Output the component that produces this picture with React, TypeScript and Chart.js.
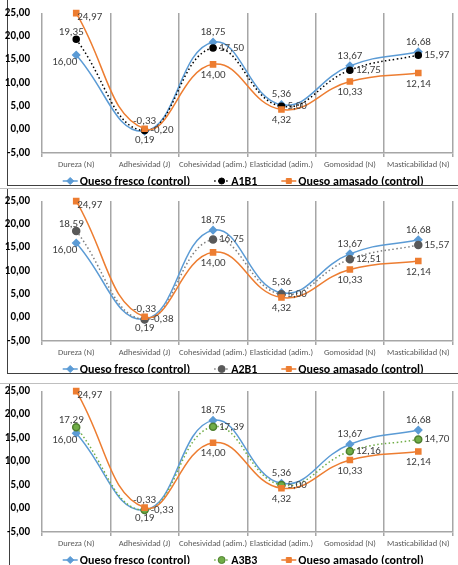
import React, { useEffect, useRef } from 'react';
import { Chart, registerables } from 'chart.js';

Chart.register(...registerables);

// ---------- data ----------
const categories = [
  'Dureza (N)',
  'Adhesividad (J)',
  'Cohesividad (adim.)',
  'Elasticidad (adim.)',
  'Gomosidad (N)',
  'Masticabilidad (N)',
];
const quesoFresco = [16.0, -0.33, 18.75, 5.36, 13.67, 16.68];
const quesoAmasado = [24.97, 0.19, 14.0, 4.32, 10.33, 12.14];
const a1b1 = [19.35, -0.2, 17.5, 5.0, 12.75, 15.97];
const a2b1 = [18.59, -0.38, 16.75, 5.0, 12.51, 15.57];
const a3b3 = [17.29, -0.33, 17.39, 5.0, 12.16, 14.7];
const yMin = -5;
const yMax = 25;
const yStep = 5;

// label placement per point (style, not data)
const frescoPlace = ['lowleft', 'above', 'above', 'above', 'above', 'above'];
const amasadoPlace = ['rightlow', 'below', 'below', 'below', 'below', 'below'];
const treatPlace = ['upleft', 'right', 'right', 'right', 'right', 'right'];

const FONT = 'Carlito, "Liberation Sans Narrow", "Liberation Sans", Arial, sans-serif';

const fmt = (v: number) => v.toFixed(2).replace('.', ',');

const BLUE = '#5B9BD5';
const ORANGE = '#ED7D31';

type Treat = {
  name: string;
  data: number[];
  line: string;
  fill: string;
  border: string;
  radius: number;
};

const treatments: Treat[] = [
  { name: 'A1B1', data: a1b1, line: '#000000', fill: '#000000', border: '#000000', radius: 3 },
  { name: 'A2B1', data: a2b1, line: '#7F7F7F', fill: '#595959', border: '#595959', radius: 3.5 },
  { name: 'A3B3', data: a3b3, line: '#70AD47', fill: '#70AD47', border: '#4E7F2F', radius: 3.5 },
];

const placeOffset: Record<string, { align: CanvasTextAlign; dx: number; dy: number }> = {
  above: { align: 'center', dx: 0, dy: -10 },
  below: { align: 'center', dx: 0, dy: 11 },
  right: { align: 'left', dx: 6, dy: 0 },
  lowleft: { align: 'right', dx: 1, dy: 7 },
  rightlow: { align: 'left', dx: 1, dy: 4 },
  upleft: { align: 'center', dx: -5, dy: -7 },
};

const labelPlugin = {
  id: 'dataLabels',
  afterDatasetsDraw(chart: any) {
    const ctx = chart.ctx;
    ctx.save();
    ctx.font = `11px ${FONT}`;
    ctx.fillStyle = '#404040';
    ctx.textBaseline = 'middle';
    chart.data.datasets.forEach((ds: any, i: number) => {
      const meta = chart.getDatasetMeta(i);
      meta.data.forEach((pt: any, j: number) => {
        const p = placeOffset[ds.places[j]];
        ctx.textAlign = p.align;
        ctx.fillText(fmt(ds.data[j]), pt.x + p.dx, pt.y + p.dy);
      });
    });
    ctx.restore();
  },
};

function drawMarker(ctx: CanvasRenderingContext2D, style: string, x: number, y: number, fill: string, border: string, r: number) {
  ctx.save();
  ctx.fillStyle = fill;
  ctx.strokeStyle = border;
  ctx.lineWidth = 1;
  ctx.beginPath();
  if (style === 'rectRot') {
    ctx.moveTo(x, y - 3.5);
    ctx.lineTo(x + 3.5, y);
    ctx.lineTo(x, y + 3.5);
    ctx.lineTo(x - 3.5, y);
    ctx.closePath();
  } else if (style === 'rect') {
    ctx.rect(x - 2.5, y - 2.5, 5, 5);
  } else {
    ctx.arc(x, y, r, 0, Math.PI * 2);
  }
  ctx.fill();
  ctx.stroke();
  ctx.restore();
}

const legendPlugin = {
  id: 'customLegend',
  afterDraw(chart: any) {
    const ctx = chart.ctx;
    const area = chart.chartArea;
    const y = area.bottom + 28;
    ctx.save();
    ctx.font = `bold 12px ${FONT}`;
    ctx.textBaseline = 'middle';
    const items = chart.data.datasets
      .slice()
      .sort((a: any, b: any) => a.legendIndex - b.legendIndex);
    const sample = 15;
    const gap = 2;
    const spacing = 24;
    const widths = items.map((d: any) => sample + gap + ctx.measureText(d.label).width);
    const total = widths.reduce((a: number, b: number) => a + b, 0) + spacing * (items.length - 1);
    let x = (area.left + area.right) / 2 - 4 - total / 2;
    items.forEach((d: any, k: number) => {
      ctx.save();
      ctx.strokeStyle = d.borderColor;
      ctx.lineWidth = 1.5;
      ctx.setLineDash(d.borderDash || []);
      ctx.beginPath();
      ctx.moveTo(x, y);
      ctx.lineTo(x + sample, y);
      ctx.stroke();
      ctx.restore();
      drawMarker(ctx, d.pointStyle, x + sample / 2, y, d.pointBackgroundColor, d.pointBorderColor, d.pointRadius);
      ctx.fillStyle = '#000000';
      ctx.textAlign = 'left';
      ctx.fillText(d.label, x + sample + gap, y + 0.5);
      x += widths[k] + spacing;
    });
    ctx.restore();
  },
};

function LineChart({ treat, height }: { treat: Treat; height: number }) {
  const ref = useRef<HTMLCanvasElement>(null);
  useEffect(() => {
    if (!ref.current) return;
    const chart = new Chart(ref.current, {
      type: 'line',
      data: {
        labels: categories,
        datasets: [
          {
            label: 'Queso fresco (control)',
            data: quesoFresco,
            borderColor: BLUE,
            backgroundColor: BLUE,
            pointBackgroundColor: BLUE,
            pointBorderColor: BLUE,
            pointStyle: 'rectRot',
            pointRadius: 3.5,
            borderWidth: 1.5,
            tension: 0.45,
            order: 3,
            places: frescoPlace,
            legendIndex: 0,
          } as any,
          {
            label: treat.name,
            data: treat.data,
            borderColor: treat.line,
            backgroundColor: treat.fill,
            pointBackgroundColor: treat.fill,
            pointBorderColor: treat.border,
            pointStyle: 'circle',
            pointRadius: treat.radius,
            borderWidth: 1.5,
            borderDash: [1.5, 2.5],
            tension: 0.45,
            order: 2,
            places: treatPlace,
            legendIndex: 1,
          } as any,
          {
            label: 'Queso amasado (control)',
            data: quesoAmasado,
            borderColor: ORANGE,
            backgroundColor: ORANGE,
            pointBackgroundColor: ORANGE,
            pointBorderColor: ORANGE,
            pointStyle: 'rect',
            pointRadius: 3.6,
            borderWidth: 1.5,
            tension: 0.45,
            order: 1,
            places: amasadoPlace,
            legendIndex: 2,
          } as any,
        ],
      },
      options: {
        animation: false,
        responsive: false,
        maintainAspectRatio: false,
        clip: false as any,
        layout: { padding: { top: 13, left: 0, right: 0, bottom: 0 } },
        plugins: {
          legend: { display: false },
          tooltip: { enabled: false },
        },
        scales: {
          x: {
            offset: true,
            grid: {
              display: true,
              offset: true,
              color: '#A6A6A6',
              lineWidth: 1.5,
              drawTicks: true,
              tickLength: 4,
            },
            border: { display: true, color: '#A6A6A6', width: 1.5 },
            ticks: {
              color: '#595959',
              font: { family: FONT, size: 8.5 },
              padding: 3,
              maxRotation: 0,
              autoSkip: false,
            },
            afterFit: (s: any) => {
              s.height = 32;
              s.paddingLeft = 0;
              s.paddingRight = 0;
            },
          },
          y: {
            min: yMin,
            max: yMax,
            grid: { display: false, drawTicks: false },
            border: { display: false },
            ticks: {
              stepSize: yStep,
              color: '#000000',
              font: { family: FONT, size: 11, weight: 'bold' },
              padding: 12,
              callback: (v: any) => fmt(Number(v)),
            },
            afterFit: (s: any) => {
              s.width = 42;
              s.paddingTop = 0;
              s.paddingBottom = 0;
            },
          },
        },
      },
      plugins: [labelPlugin, legendPlugin],
    });
    return () => chart.destroy();
  }, [treat, height]);
  return <canvas ref={ref} width={458} height={height} style={{ display: 'block', width: 458, height }} />;
}

export default function App() {
  useEffect(() => {
    document.body.style.margin = '0';
  }, []);
  const dark = '#404040';
  const gray = '#BFBFBF';
  return (
    <div style={{ position: 'relative', width: 458, height: 565, overflow: 'hidden', background: '#ffffff' }}>
      {/* chart 1 frame */}
      <div style={{ position: 'absolute', left: 7, top: -3, width: 460, height: 187, borderLeft: `1.5px solid ${dark}`, borderBottom: `1.5px solid ${dark}`, borderTop: `1px solid ${dark}` }} />
      {/* chart 2 frame */}
      <div style={{ position: 'absolute', left: 0, top: 188, width: 458, height: 0, borderTop: `1px solid ${gray}` }} />
      <div style={{ position: 'absolute', left: 7, top: 189, width: 460, height: 184, borderLeft: `1.5px solid ${dark}`, borderBottom: `1.5px solid ${dark}` }} />
      {/* chart 3 frame */}
      <div style={{ position: 'absolute', left: 0, top: 383, width: 458, height: 0, borderTop: `1px solid ${gray}` }} />
      <div style={{ position: 'absolute', left: 9, top: 384, width: 460, height: 200, borderLeft: `1.5px solid ${dark}` }} />
      <div style={{ position: 'absolute', left: 0, top: 0 }}>
        <LineChart treat={treatments[0]} height={185} />
      </div>
      <div style={{ position: 'absolute', left: 0, top: 188 }}>
        <LineChart treat={treatments[1]} height={185} />
      </div>
      <div style={{ position: 'absolute', left: 0, top: 378 }}>
        <LineChart treat={treatments[2]} height={186} />
      </div>
    </div>
  );
}
